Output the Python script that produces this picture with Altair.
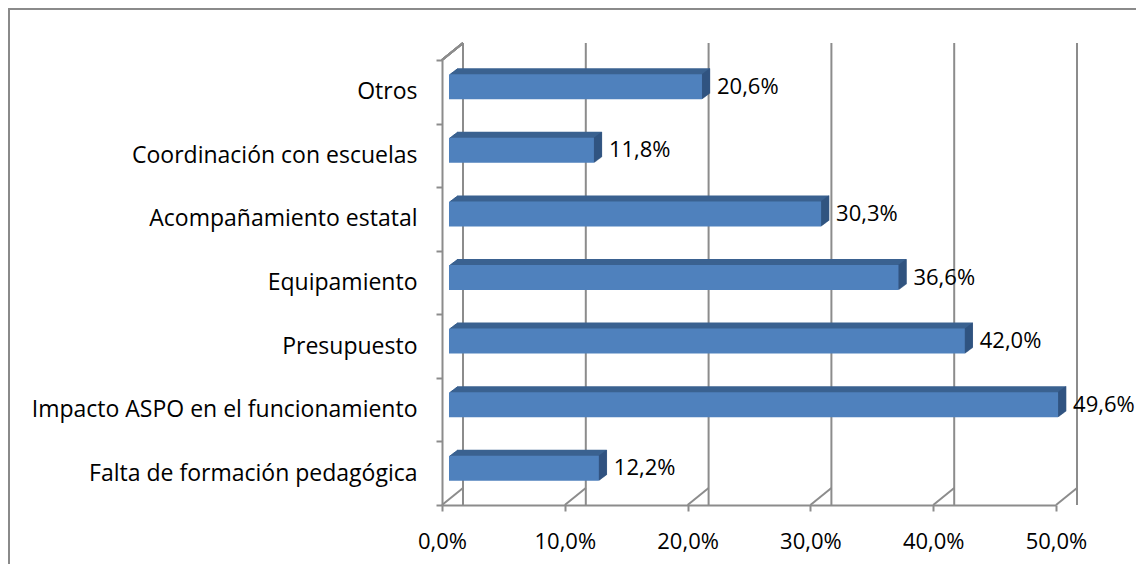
import altair as alt
import pandas as pd

categories = [
    "Otros",
    "Coordinación con escuelas",
    "Acompañamiento estatal",
    "Equipamiento",
    "Presupuesto",
    "Impacto ASPO en el funcionamiento",
    "Falta de formación pedagógica",
]
values = [20.6, 11.8, 30.3, 36.6, 42.0, 49.6, 12.2]
x_ticks = [0, 10, 20, 30, 40, 50]

df = pd.DataFrame({"cat": categories, "val": values})
df["label"] = [f"{v:.1f}".replace(".", ",") + "%" for v in values]
grid_df = pd.DataFrame({"t": x_ticks})

W, H = 614, 445
DX, DY = 21, -17          # back wall offset (3D depth)
BX, BY = 7, -5            # bar front face offset
BD, BDY = 8, -6           # bar depth
BAR = 25

GRAY = "#8c8c8c"
FRONT = "#4f81bd"
TOP = "#3b6290"
SIDE = "#30527f"
FONT = "Open Sans"
FS = 22
FS_CAT = 23

x_scale = alt.Scale(domain=[0, 50], nice=False, zero=True)
y_scale = alt.Scale(domain=categories, paddingInner=0, paddingOuter=0)

x_axis = alt.Axis(
    values=x_ticks, title=None, grid=False, labelFlush=False,
    labelExpr="replace(format(datum.value, '.1f'), '.', ',') + '%'",
    domainColor=GRAY, domainWidth=2, tickColor=GRAY, tickWidth=2, tickSize=6,
    labelFont=FONT, labelFontSize=FS, labelColor="black", labelPadding=20,
)
y_axis = alt.Axis(
    title=None, grid=False, tickBand="extent",
    domainColor=GRAY, domainWidth=2, tickColor=GRAY, tickWidth=2, tickSize=6,
    labelFont=FONT, labelFontSize=FS_CAT, labelColor="black", labelPadding=19,
    labelLimit=600,
)

X = alt.X("val:Q", scale=x_scale, axis=x_axis)
Y = alt.Y("cat:N", scale=y_scale, sort=categories, axis=y_axis)
XT = alt.X("t:Q", scale=x_scale, axis=x_axis)

base = alt.Chart(df)
gbase = alt.Chart(grid_df)

layers = []

# back wall gridlines
back_grid = gbase.mark_rule(color=GRAY, strokeWidth=2, xOffset=DX, yOffset=DY).encode(x=XT)
# floor diagonals
floor = gbase.mark_rule(color=GRAY, strokeWidth=2, x2Offset=DX, y2Offset=DY).encode(
    x=XT, x2="t:Q", y=alt.value(H), y2=alt.value(H))
layers += [back_grid, floor]

# bar depth (top face) via extrusion
steps = 8
for i in range(steps, 0, -1):
    k = BD * i / steps
    layers.append(base.mark_bar(size=BAR, color=TOP, xOffset=BX + k,
                                yOffset=BY + k * BDY / BD).encode(x=X, y=Y))
# side face
for i in range(steps * 2, 0, -1):
    k = BD * (i - 0.5) / (steps * 2)
    layers.append(base.mark_tick(orient="vertical", size=BAR, thickness=1, color=SIDE,
                                 xOffset=BX + k, yOffset=BY + k * BDY / BD).encode(x=X, y=Y))

# front face
layers.append(base.mark_bar(size=BAR, color=FRONT, xOffset=BX, yOffset=BY).encode(x=X, y=Y))

labels = base.mark_text(align="left", baseline="middle", dx=22, dy=-5,
                        font=FONT, fontSize=FS, color="black").encode(
    x=X, y=Y, text="label:N")
layers.append(labels)

# top-left wall edge and outer frame (decorations)
wall_top = gbase.mark_rule(color=GRAY, strokeWidth=2).encode(
    x=alt.value(0), y=alt.value(0), x2=alt.value(DX), y2=alt.value(DY))
frame_left = gbase.mark_rule(color="#8a8a8a", strokeWidth=1.5).encode(
    x=alt.value(-433.2), y=alt.value(-51.2), y2=alt.value(H + 80))
frame_top = gbase.mark_rule(color="#8a8a8a", strokeWidth=1.5).encode(
    x=alt.value(-433.2), x2=alt.value(W + 120), y=alt.value(-51.2))
layers += [wall_top, frame_left, frame_top]

chart = alt.layer(*layers).properties(
    width=W, height=H,
    autosize=alt.AutoSizeParams(type="none"),
    padding={"left": 434, "top": 52, "right": 80, "bottom": 59},
).configure_view(stroke=None)

chart.save("out.html", embed_options={"renderer": "svg", "actions": False})
